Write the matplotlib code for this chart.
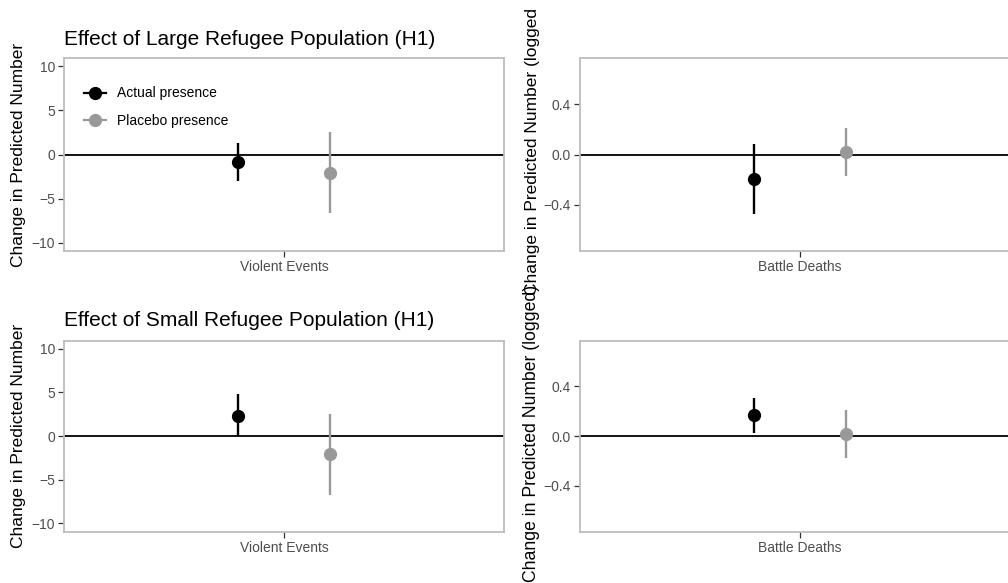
import matplotlib
matplotlib.use("Agg")
import matplotlib.pyplot as plt
import numpy as np
from matplotlib.transforms import Bbox, TransformedBbox

plt.rcParams["font.family"] = ["Liberation Sans", "DejaVu Sans"]

# ---- data ----
groups = ["Actual presence", "Placebo presence"]
group_colors = ["#000000", "#999999"]

events_label = ["Violent Events"]
deaths_label = ["Battle Deaths"]

large_events_est = [-0.9, -2.1]
large_events_lo = [-3.05, -6.65]
large_events_hi = [1.25, 2.5]

small_events_est = [2.35, -2.1]
small_events_lo = [0.02, -6.75]
small_events_hi = [4.8, 2.5]

large_deaths_est = [-0.195, 0.02]
large_deaths_lo = [-0.475, -0.175]
large_deaths_hi = [0.085, 0.21]

small_deaths_est = [0.17, 0.02]
small_deaths_lo = [0.025, -0.175]
small_deaths_hi = [0.31, 0.21]

events_ticks = [-10, -5, 0, 5, 10]
events_ticklabels = ["\u221210", "\u22125", "0", "5", "10"]
deaths_ticks = [-0.4, 0.0, 0.4]
deaths_ticklabels = ["\u22120.4", "0.0", "0.4"]

titles = ["Effect of Large Refugee Population (H1)",
          "Effect of Small Refugee Population (H1)"]
ylab_events = "Change in Predicted Number"
ylab_deaths = "Change in Predicted Number (logged)"

W, H = 1008, 583
DODGE = 0.125
BORDER = "#BDBDBD"
TICK_TXT = "#4D4D4D"


def px_box(x0, y0, x1, y1):
    return [x0 / W, 1 - y1 / H, (x1 - x0) / W, (y1 - y0) / H]


def draw_panel(ax, cats, est, lo, hi, ticks, ticklabels, lim, legend=False):
    offsets = np.array([-DODGE, DODGE])
    xs = 1 + offsets
    ax.axhline(0, color="black", lw=1.3, zorder=1)
    for i, g in enumerate(groups):
        ax.vlines(xs[i], lo[i], hi[i], color=group_colors[i], lw=1.7, zorder=2)
        ax.plot([xs[i]], [est[i]], marker="o", ms=8.5, ls="-", lw=1.6,
                color=group_colors[i], label=g, zorder=3)
    ax.set_xlim(0.4, 1.6)
    ax.set_ylim(-lim, lim)
    ax.set_xticks([1])
    ax.set_xticklabels(cats)
    ax.set_yticks(ticks)
    ax.set_yticklabels(ticklabels)
    ax.tick_params(length=4, width=0.9, color="#333333", labelcolor=TICK_TXT,
                   labelsize=10, pad=2.5)
    for sp in ax.spines.values():
        sp.set_color(BORDER)
        sp.set_linewidth(1.3)
    if legend:
        ax.legend(loc="upper left", bbox_to_anchor=(0.045, 0.853), frameon=False,
                  fontsize=10, handlelength=1.6, handletextpad=0.8,
                  labelspacing=1.0, borderpad=0, borderaxespad=0)


fig = plt.figure(figsize=(W / 100, H / 100), dpi=100)

ax1 = fig.add_axes(px_box(64, 58, 504, 251))
ax2 = fig.add_axes(px_box(580, 58, 1020, 251))
ax3 = fig.add_axes(px_box(64, 340.5, 504, 531.7))
ax4 = fig.add_axes(px_box(580, 340.5, 1020, 531.7))

draw_panel(ax1, events_label, large_events_est, large_events_lo, large_events_hi,
           events_ticks, events_ticklabels, 10.95, legend=True)
draw_panel(ax2, deaths_label, large_deaths_est, large_deaths_lo, large_deaths_hi,
           deaths_ticks, deaths_ticklabels, 0.77)
draw_panel(ax3, events_label, small_events_est, small_events_lo, small_events_hi,
           events_ticks, events_ticklabels, 10.95)
draw_panel(ax4, deaths_label, small_deaths_est, small_deaths_lo, small_deaths_hi,
           deaths_ticks, deaths_ticklabels, 0.77)

ax1.set_title(titles[0], loc="left", fontsize=15, pad=9.5)
ax3.set_title(titles[1], loc="left", fontsize=15, pad=10.5)

for ax in (ax1, ax3):
    ax.set_ylabel(ylab_events, fontsize=12.5)
    ax.yaxis.set_label_coords(-0.086, 0.5)
ax2.set_ylabel(ylab_deaths, fontsize=12.5)
ax2.yaxis.set_label_coords(-0.091, 0.528)
ax4.set_ylabel(ylab_deaths, fontsize=12.7)
ax4.yaxis.set_label_coords(-0.091, 0.516)

# the upper right label runs off the top of its cell in the reference
top_lab = ax2.yaxis.label
top_lab.set_clip_box(TransformedBbox(Bbox.from_extents(0, 0, 1, 1 - 9 / H),
                                     fig.transFigure))
top_lab.set_clip_on(True)

fig.savefig("out.png", dpi=100)
